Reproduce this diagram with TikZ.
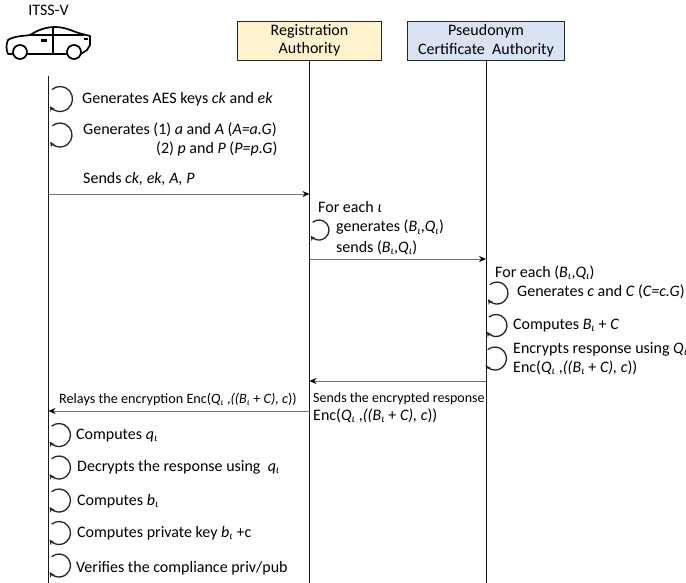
\documentclass[tikz,border=0pt]{standalone}
\usepackage{fontspec}
\setmainfont{Carlito}
\usepackage{xcolor}
\usetikzlibrary{arrows.meta, positioning, calc}
\definecolor{RAYellow}{HTML}{FFF2CC}
\definecolor{PCABlue}{HTML}{DAE3F3}
\newcommand{\iotasub}{\textsubscript{\textit{ι}}}
\tikzset{
    authoritybox/.style={rectangle, minimum height=39pt, inner sep=0pt, align=center,
        draw=black!85, font=\fontsize{16}{18.5}\selectfont},
    lifeline/.style={line width=1pt, black!90},
    msgarrow/.style={-{Stealth[length=7pt, width=6pt, black]}, line width=0.8pt, black!55},
    selfloop/.style={-{Stealth[length=5pt, width=5pt]}, line width=1.3pt, black!85},
    steptext/.style={anchor=base west, inner sep=0pt, font=\fontsize{16}{18}\selectfont},
    smalltext/.style={steptext, font=\fontsize{14.2}{16}\selectfont},
    cardraw/.style={line width=1.7pt, black, line join=round},
}

\begin{document}
\begin{tikzpicture}[x=1pt, y=-1pt]
    \useasboundingbox (0,0) rectangle (686,583);

    % Actors
    \node[steptext, anchor=base] (itss) at (48.5,16) {ITSS-V};
    \node[authoritybox, fill=RAYellow, minimum width=144pt] (ra) at (309.5,40.5) {Registration\\Authority};
    \node[authoritybox, fill=PCABlue, minimum width=157pt] (pca) at (486,40.5) {Pseudonym\\Certificate\ \ Authority};

    % Car icon
    \draw[cardraw] (13,54) -- (8,54) .. controls (6,50) and (6,44) .. (8,40)
        .. controls (14,36) and (24,36) .. (30,35) .. controls (38,30) and (46,27) .. (55,27)
        .. controls (66,27) and (74,32) .. (82,34) -- (90,36) -- (90,45) -- (87,50) -- (81,54);
    \draw[cardraw] (27,54) -- (67,54);
    \draw[cardraw] (30,35) -- (84,35);
    \draw[cardraw] (53,27) -- (53,54);
    \draw[cardraw] (20,52) circle (7);
    \draw[cardraw] (74,52) circle (7);
    \fill (41,39) rectangle (47,42);
    \fill (84,38) rectangle (88,40);

    % Lifelines
    \coordinate (itsstop) at (48.5,76);
    \coordinate (itssend) at (48.5,583);
    \coordinate (raend) at (ra.south |- itssend);
    \coordinate (pcaend) at (pca.south |- itssend);
    \draw[lifeline] (itsstop) -- (itssend);
    \draw[lifeline] (ra.south) -- (raend);
    \draw[lifeline] (pca.south) -- (pcaend);

    % Self loops
    \foreach \cx/\cy/\r in {60/99/12.5, 60/135/12, 319/230/10, 497/293/11, 496/325.5/11,
        495/358.5/11.5, 59/435/11.5, 59/467.5/11.5, 59/500.5/11.5, 59/533/11.5, 59/565.5/11.5}{
        \draw[selfloop] (\cx,\cy) ++(-130:\r) arc[start angle=130, end angle=-145, radius=\r pt];
    }

    % Messages
    \coordinate (m1a) at (itsstop |- 0,194);
    \coordinate (m1b) at (ra.south |- 0,194);
    \coordinate (m2a) at (ra.south |- 0,259);
    \coordinate (m2b) at (pca.south |- 0,259);
    \coordinate (m3a) at (pca.south |- 0,381);
    \coordinate (m3b) at (ra.south |- 0,381);
    \coordinate (m4a) at (ra.south |- 0,411);
    \coordinate (m4b) at (itsstop |- 0,411);
    \draw[msgarrow] (m1a) -- (m1b);
    \draw[msgarrow] (m2a) -- (m2b);
    \draw[msgarrow] (m3a) -- (m3b);
    \draw[msgarrow] (m4a) -- (m4b);

    % ITSS-V steps
    \node[steptext] (aes) at (82,104) {Generates AES keys \textit{ck} and \textit{ek}};
    \node[steptext] (gena) at (83,135) {Generates (1) \textit{a} and \textit{A} (\textit{A=a.G})};
    \node[steptext] (genp) at (156,154) {(2) \textit{p} and \textit{P} (\textit{P=p.G})};
    \node[steptext] (sends) at (83,184) {Sends \textit{ck, ek, A, P}};

    % RA steps
    \node[steptext] (foreach) at (318,213) {For each \textit{ι}};
    \node[steptext] (genbq) at (336,232) {generates (\textit{B}\iotasub,\textit{Q}\iotasub)};
    \node[steptext] (sendbq) at (336,252) {sends (\textit{B}\iotasub,\textit{Q}\iotasub)};

    % PCA steps
    \node[steptext] (foreachbq) at (495,277) {For each (\textit{B}\iotasub,\textit{Q}\iotasub)};
    \node[steptext] (genc) at (517,296) {Generates \textit{c} and \textit{C} (\textit{C=c.G})};
    \node[steptext] (compbc) at (513,329) {Computes \textit{B}\iotasub{} + \textit{C}};
    \node[steptext] (encr) at (513,353) {Encrypts response using \textit{Q}\iotasub};
    \node[steptext] (encval) at (513,372) {Enc(\textit{Q}\iotasub{} ,\textit{((B}\iotasub{} + \textit{C), c}))};

    % Responses
    \node[smalltext, font=\fontsize{14}{16}\selectfont] (sendenc) at (313,402) {Sends the encrypted response};
    \node[steptext] (sendval) at (313,420) {Enc(\textit{Q}\iotasub{} ,\textit{((B}\iotasub{} + \textit{C), c}))};
    \node[smalltext] (relay) at (59,403) {Relays the encryption Enc(\textit{Q}\iotasub{} ,\textit{((B}\iotasub{} + \textit{C), c}))};

    % Final ITSS-V steps
    \node[steptext] (compq) at (76,439) {Computes \textit{q}\iotasub};
    \node[steptext] (decr) at (77,471) {Decrypts the response using\ \ \textit{q}\iotasub};
    \node[steptext] (compb) at (77,505) {Computes \textit{b}\iotasub};
    \node[steptext] (priv) at (77,537) {Computes private key \textit{b}\iotasub{} +c};
    \node[steptext] (verif) at (76,572) {Verifies the compliance priv/pub};
\end{tikzpicture}
\end{document}
